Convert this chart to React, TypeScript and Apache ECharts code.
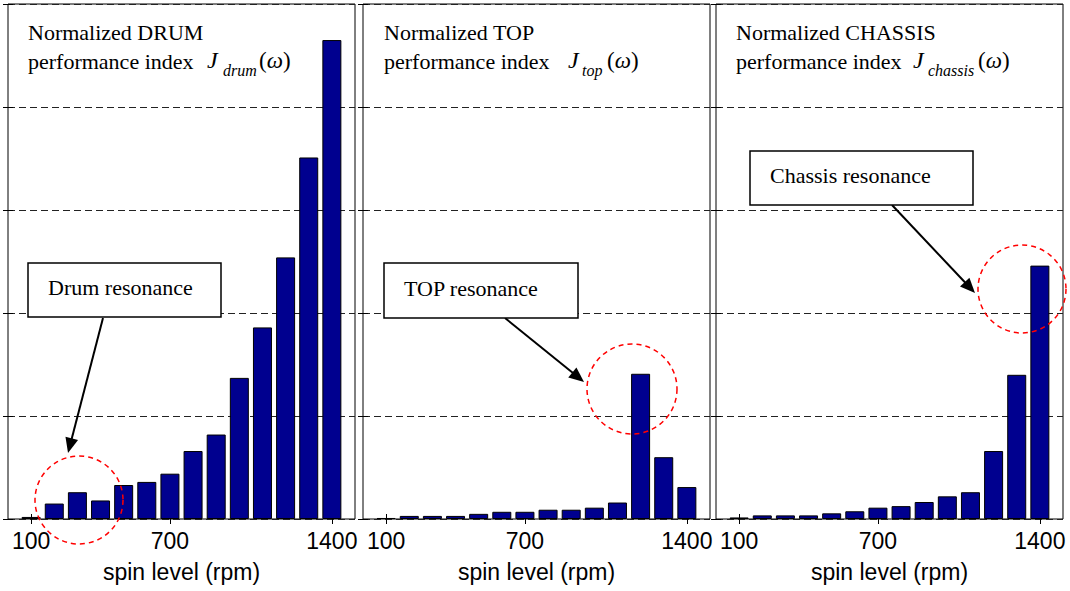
import React, { useEffect, useRef } from "react";
import * as echarts from "echarts";

const spin = [100, 200, 300, 400, 500, 600, 700, 800, 900, 1000, 1100, 1200, 1300, 1400];
const drumIndex = [0.02, 0.15, 0.26, 0.18, 0.33, 0.36, 0.44, 0.66, 0.82, 1.37, 1.86, 2.54, 3.51, 4.65];
const topIndex = [0.01, 0.03, 0.03, 0.03, 0.05, 0.07, 0.07, 0.09, 0.09, 0.11, 0.16, 1.41, 0.6, 0.31];
const chassisIndex = [0.015, 0.035, 0.035, 0.035, 0.055, 0.075, 0.11, 0.125, 0.165, 0.22, 0.26, 0.66, 1.4, 2.46];
const xTickLabels = [100, 700, 1400];
const panelNames = ["DRUM", "TOP", "CHASSIS"];
const panelSubs = ["drum", "top", "chassis"];
const annotationTexts = ["Drum resonance", "TOP resonance", "Chassis resonance"];
const xName = "spin level (rpm)";

const SERIF = '"Liberation Serif", "Times New Roman", serif';
const SANS = '"Liberation Sans", Arial, sans-serif';
const BAR_COLOR = "#00008F";

// layout (pixels)
const gridLefts = [8, 363, 716];
const gridWidth = 347;
const gridTop = 4;
const gridHeight = 515;

function arrow(x1: number, y1: number, x2: number, y2: number, len = 15, half = 6.5) {
  const dx = x2 - x1;
  const dy = y2 - y1;
  const L = Math.sqrt(dx * dx + dy * dy);
  const ux = dx / L;
  const uy = dy / L;
  const bx = x2 - ux * len;
  const by = y2 - uy * len;
  const nx = -uy;
  const ny = ux;
  return [
    {
      type: "line",
      shape: { x1, y1, x2: bx + ux * 2, y2: by + uy * 2 },
      style: { stroke: "#000", lineWidth: 2 },
      z: 20,
    },
    {
      type: "polygon",
      shape: {
        points: [
          [x2, y2],
          [bx + nx * half, by + ny * half],
          [bx - nx * half, by - ny * half],
        ],
      },
      style: { fill: "#000" },
      z: 20,
    },
  ];
}

function txt(x: number, y: number, text: string, size: number, family: string, italic = false, rich?: any) {
  return {
    type: "text",
    x,
    y,
    z: 25,
    style: {
      text,
      fill: "#000",
      fontSize: size,
      fontFamily: family,
      fontStyle: italic ? "italic" : "normal",
      align: "left",
      verticalAlign: "middle",
      rich,
    },
  };
}

export default function App() {
  const ref = useRef<HTMLDivElement>(null);

  useEffect(() => {
    if (!ref.current) return;
    const chart = echarts.init(ref.current, null, { renderer: "svg" });
    const values = [drumIndex, topIndex, chassisIndex];

    const grids: any[] = [];
    const xAxes: any[] = [];
    const yAxes: any[] = [];
    const series: any[] = [];

    values.forEach((vals, i) => {
      grids.push({
        left: gridLefts[i],
        top: gridTop,
        width: gridWidth,
        height: gridHeight,
        show: true,
        borderColor: "#000",
        borderWidth: 1,
        backgroundColor: "#fff",
        containLabel: false,
      });
      xAxes.push({
        type: "value",
        gridIndex: i,
        min: 0,
        max: 1500,
        position: "bottom",
        axisLine: { show: false },
        axisTick: {
          show: true,
          inside: true,
          length: 5,
          customValues: xTickLabels,
          lineStyle: { color: "#000" },
        },
        axisLabel: {
          show: true,
          customValues: xTickLabels,
          formatter: (v: number) => String(v),
          fontFamily: SANS,
          fontSize: 23,
          color: "#000",
          margin: 10,
        },
        splitLine: { show: false },
        name: xName,
        nameLocation: "middle",
        nameGap: 41,
        nameTextStyle: { fontFamily: SANS, fontSize: 23, color: "#000" },
      });
      xAxes.push({
        type: "value",
        gridIndex: i,
        min: 0,
        max: 1500,
        position: "top",
        axisLine: { show: false },
        axisTick: {
          show: true,
          inside: true,
          length: 5,
          customValues: xTickLabels,
          lineStyle: { color: "#000" },
        },
        axisLabel: { show: false },
        splitLine: { show: false },
      });
      yAxes.push({
        type: "value",
        gridIndex: i,
        min: 0,
        max: 5,
        interval: 1,
        position: "left",
        axisLine: { show: false },
        axisTick: { show: true, inside: true, length: 5, lineStyle: { color: "#000" } },
        axisLabel: { show: false },
        splitLine: {
          show: true,
          lineStyle: { color: "#222", width: 1, type: [7, 4] },
        },
      });
      yAxes.push({
        type: "value",
        gridIndex: i,
        min: 0,
        max: 5,
        interval: 1,
        position: "right",
        axisLine: { show: false },
        axisTick: { show: true, inside: true, length: 5, lineStyle: { color: "#000" } },
        axisLabel: { show: false },
        splitLine: { show: false },
      });
      series.push({
        type: "bar",
        xAxisIndex: 2 * i,
        yAxisIndex: 2 * i,
        barWidth: 19,
        data: spin.map((s, k) => [s, vals[k]]),
        itemStyle: { color: BAR_COLOR, borderColor: "#000", borderWidth: 1 },
        z: 3,
      });
    });

    const titleX = [28, 384, 736];
    const jX = [207, 568, 913];
    const subX = [223, 582, 928];
    const omegaX = [259, 607, 978];

    const graphics: any[] = [];
    for (let i = 0; i < 3; i++) {
      graphics.push(txt(titleX[i], 32, "Normalized " + panelNames[i], 22, SERIF));
      graphics.push(txt(titleX[i], 61, "performance index", 22, SERIF));
      graphics.push(txt(jX[i], 60, "J", 24, SERIF, true));
      graphics.push(txt(subX[i], 70, panelSubs[i], 16, SERIF, true));
      graphics.push(
        txt(omegaX[i], 60, "({w|ω})", 23, SERIF, false, {
          w: { fontStyle: "italic", fontSize: 23, fontFamily: SERIF, fill: "#000" },
        })
      );
    }

    // annotation boxes
    const boxes = [
      { x: 28, y: 263, w: 193, h: 54, tx: 48, ty: 287 },
      { x: 384, y: 263, w: 194, h: 55, tx: 404, ty: 288 },
      { x: 750, y: 151, w: 223, h: 54, tx: 770, ty: 175 },
    ];
    boxes.forEach((b, i) => {
      graphics.push({
        type: "rect",
        z: 22,
        shape: { x: b.x, y: b.y, width: b.w, height: b.h },
        style: { fill: "#fff", stroke: "#000", lineWidth: 1.5 },
      });
      graphics.push(txt(b.tx, b.ty, annotationTexts[i], 22, SERIF));
    });

    graphics.push(...arrow(103, 318, 68, 453));
    graphics.push(...arrow(505, 318, 584, 382));
    graphics.push(...arrow(892, 205, 975, 293));

    const circles = [
      { cx: 79, cy: 500, r: 44 },
      { cx: 632, cy: 389, r: 45 },
      { cx: 1022, cy: 289, r: 44 },
    ];
    circles.forEach((c) => {
      graphics.push({
        type: "circle",
        z: 21,
        shape: c,
        style: { fill: "none", stroke: "#FF0000", lineWidth: 1.5, lineDash: [5, 4] },
      });
    });

    chart.setOption({
      animation: false,
      backgroundColor: "#fff",
      grid: grids,
      xAxis: xAxes,
      yAxis: yAxes,
      series,
      graphic: graphics,
    });

    return () => chart.dispose();
  }, []);

  return (
    <div
      ref={ref}
      style={{ position: "fixed", left: 0, top: 0, width: 1070, height: 591, background: "#fff" }}
    />
  );
}
